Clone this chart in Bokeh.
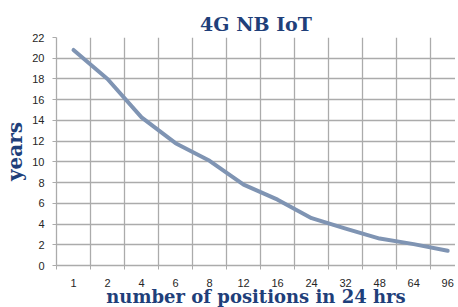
from bokeh.plotting import figure
from bokeh.models import Range1d, FixedTicker, Title
from bokeh.embed import file_html
from bokeh.resources import INLINE

categories = ["1", "2", "4", "6", "8", "12", "16", "24", "32", "48", "64", "96"]
years = [20.8, 18.0, 14.3, 11.8, 10.1, 7.8, 6.35, 4.57, 3.55, 2.6, 2.06, 1.42]
y_ticks = list(range(0, 23, 2))

n = len(categories)
xs = list(range(n))
boundaries = [i - 0.5 for i in range(n + 1)]

NAVY = "#1F3F7A"
GRID = "#ABABAB"

p = figure(frame_width=399, frame_height=228, output_backend="svg", toolbar_location=None,
           x_range=Range1d(-0.5, 11.23), y_range=Range1d(0, 22),
           min_border_left=51, min_border_right=0, min_border_top=0, min_border_bottom=0)
p.width = None
p.height = None
p.outline_line_color = None

# outer spacer (top margin)
p.title.text = " "
p.title.text_font_size = "4px"
p.title.standoff = 0

# real chart title, placed next to the frame
p.add_layout(Title(text="4G NB IoT", align="center", text_font="DejaVu Serif",
                   text_font_style="bold", text_font_size="19px", text_color=NAVY,
                   offset=0, standoff=6), "above")

p.line(xs, years, line_color="#7F94B3", line_width=4, line_cap="round", line_join="round")

# x axis
xa = p.xaxis[0]
xa.ticker = FixedTicker(ticks=xs, minor_ticks=boundaries)
xa.major_label_overrides = {i: c for i, c in enumerate(categories)}
xa.major_tick_line_color = None
xa.major_tick_out = 0
xa.major_tick_in = 0
xa.minor_tick_line_color = GRID
xa.minor_tick_out = 4
xa.minor_tick_in = 0
xa.axis_line_color = GRID
xa.axis_line_width = 1.3
xa.major_label_standoff = 9
xa.major_label_text_font = "Liberation Sans"
xa.major_label_text_font_size = "11px"
xa.major_label_text_color = "#262626"
xa.axis_label = "number of positions in 24 hrs"
xa.axis_label_text_font = "DejaVu Serif"
xa.axis_label_text_font_style = "bold"
xa.axis_label_text_font_size = "18px"
xa.axis_label_text_color = NAVY
xa.axis_label_standoff = -4

# y axis
ya = p.yaxis[0]
ya.ticker = FixedTicker(ticks=y_ticks, minor_ticks=[])
ya.major_tick_line_color = GRID
ya.major_tick_out = 4
ya.major_tick_in = 0
ya.minor_tick_line_color = None
ya.axis_line_color = GRID
ya.axis_line_width = 1.3
ya.major_label_standoff = 8
ya.major_label_text_font = "Liberation Sans"
ya.major_label_text_font_size = "11px"
ya.major_label_text_color = "#262626"
ya.axis_label = "years"
ya.axis_label_text_font = "DejaVu Serif"
ya.axis_label_text_font_style = "bold"
ya.axis_label_text_font_size = "20px"
ya.axis_label_text_color = NAVY
ya.axis_label_standoff = 2

p.xgrid.ticker = FixedTicker(ticks=boundaries)
p.xgrid.grid_line_color = GRID
p.xgrid.grid_line_width = 1.3
p.ygrid.grid_line_color = GRID
p.ygrid.grid_line_width = 1.3

open("out.html", "w").write(file_html(p, INLINE))
